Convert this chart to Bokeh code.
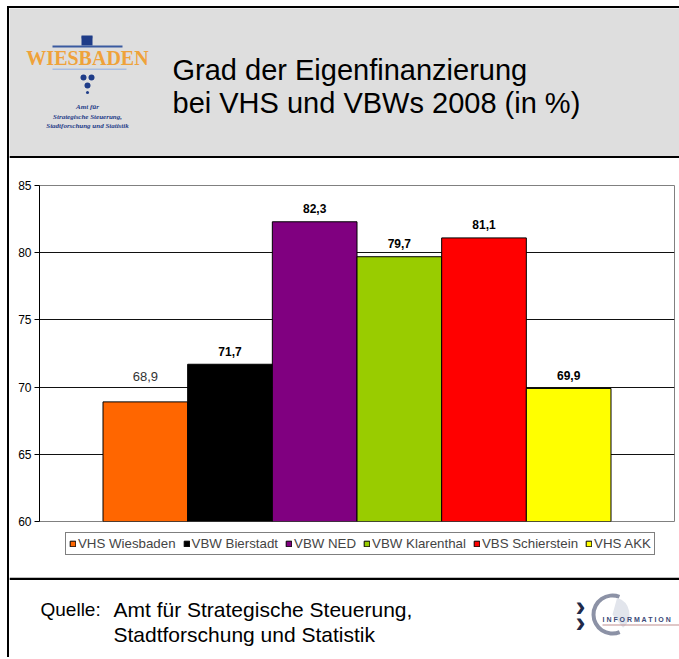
from bokeh.plotting import figure
from bokeh.models import Range1d, FactorRange, ColumnDataSource, Legend, LegendItem, FixedTicker
from bokeh.layouts import column
from bokeh.embed import file_html
from bokeh.resources import INLINE
from bokeh.core.properties import value

# ---- data ----
categories = ["VHS Wiesbaden", "VBW Bierstadt", "VBW NED", "VBW Klarenthal", "VBS Schierstein", "VHS AKK"]
values = [68.9, 71.7, 82.3, 79.7, 81.1, 69.9]
labels = ["68,9", "71,7", "82,3", "79,7", "81,1", "69,9"]
colors = ["#FF6600", "#000000", "#800080", "#99CC00", "#FF0000", "#FFFF00"]
y_ticks = [60, 65, 70, 75, 80, 85]
title_lines = ["Grad der Eigenfinanzierung", "bei VHS und VBWs 2008 (in %)"]
source_label = "Quelle:"
source_lines = ["Amt für Strategische Steuerung,", "Stadtforschung und Statistik"]
logo_word = "WIESBADEN"
logo_lines = ["Amt für", "Strategische Steuerung,", "Stadtforschung und Statistik"]

FONT = value("Liberation Sans")
W = 670
COMMON = dict(output_backend="svg", toolbar_location=None, frame_align=False)

# ---- header ----
HH = 150
h = figure(width=W, height=HH, x_range=Range1d(0, W), y_range=Range1d(HH, 0),
           x_axis_type=None, y_axis_type=None, min_border=0,
           background_fill_color="#dedede", border_fill_color="#dedede",
           outline_line_color=None, **COMMON)
h.grid.visible = False
h.quad(left=[0], right=[W], top=[147.5], bottom=[150], fill_color="black", line_color=None)
h.text(x=[163, 163], y=[61, 94], text=title_lines, text_font=FONT,
       text_font_size="29px", text_baseline="middle", text_color="black")
# Wiesbaden logo
h.quad(left=[72], right=[83], top=[27], bottom=[37], fill_color="#1f3c88", line_color=None)
h.wedge(x=[77.5], y=[28], radius=5.5, start_angle=0, end_angle=3.1416,
        direction="clock", fill_color="#1f3c88", line_color=None)
h.quad(left=[43], right=[113], top=[37], bottom=[39], fill_color="#3a5aa0", line_color=None)
h.text(x=[78], y=[49], text=[logo_word], text_font=value("Liberation Serif"),
       text_font_style="bold", text_font_size="20px", text_align="center",
       text_baseline="middle", text_color="#efa23a")
h.quad(left=[43], right=[117], top=[60], bottom=[61.5], fill_color="#a9bde0", line_color=None)
h.scatter(x=[74, 82, 78, 78], y=[69, 69, 77, 84], size=[6, 6, 6, 3],
          marker="circle", fill_color="#1f3c88", line_color=None)
h.text(x=[78, 78, 78], y=[98, 108, 117], text=logo_lines,
       text_font=value("Liberation Serif"), text_font_style="bold italic",
       text_font_size="7px", text_align="center", text_baseline="middle",
       text_color="#1f3c88")

# ---- chart ----
src = ColumnDataSource(dict(cat=categories, val=values, lab=labels, col=colors))
src_first = ColumnDataSource(dict(cat=categories[:1], val=values[:1], lab=labels[:1]))
src_rest = ColumnDataSource(dict(cat=categories[1:], val=values[1:], lab=labels[1:]))

p = figure(width=W, height=371,
           x_range=FactorRange(*categories, range_padding=0.25, range_padding_units="percent"),
           y_range=Range1d(60, 85), x_axis_type=None,
           min_border_left=30, min_border_right=5, min_border_top=27, min_border_bottom=8,
           background_fill_color="white", border_fill_color="white",
           outline_line_color="#808080", **COMMON)
p.xgrid.visible = False
p.ygrid.ticker = FixedTicker(ticks=y_ticks[1:-1])
p.ygrid.grid_line_color = "#111111"
p.yaxis.ticker = FixedTicker(ticks=y_ticks)
p.yaxis.minor_tick_line_color = None
p.yaxis.major_tick_in = 0
p.yaxis.major_tick_out = 5
p.yaxis.axis_line_color = "black"
p.yaxis.major_tick_line_color = "black"
p.yaxis.major_label_text_font = "Liberation Sans"
p.yaxis.major_label_text_font_size = "12px"
p.yaxis.major_label_text_color = "black"
p.yaxis.major_label_standoff = 3

p.vbar(x="cat", top="val", bottom=60, width=1.0, fill_color="col",
       line_color="black", line_width=1, source=src)
p.text(x="cat", y="val", text="lab", source=src_rest, text_font=FONT,
       text_font_style="bold", text_font_size="12px", text_align="center",
       text_baseline="middle", y_offset=-13, text_color="black")
p.text(x="cat", y="val", text="lab", source=src_first, text_font=FONT,
       text_font_size="13px", text_align="center",
       text_baseline="middle", y_offset=-25, text_color="#333333")

# ---- legend strip ----
lg = figure(width=W, height=48, x_range=FactorRange(*categories), y_range=Range1d(60, 85),
            x_axis_type=None, y_axis_type=None,
            min_border_left=30, min_border_right=5, min_border_top=0, min_border_bottom=0,
            background_fill_color="white", border_fill_color="white",
            outline_line_color=None, **COMMON)
lg.grid.visible = False
lbars = lg.vbar(x="cat", top="val", bottom=60, width=0.8, fill_color="col",
                line_color="black", line_width=1, source=src)
lbars.visible = False
items = [LegendItem(label=c, renderers=[lbars], index=i) for i, c in enumerate(categories)]
legend = Legend(items=items, orientation="horizontal", location=(26, 22),
                label_text_font="Liberation Sans", label_text_font_size="13.3px",
                glyph_width=7, glyph_height=7, label_standoff=2, spacing=7,
                padding=3, margin=0, label_height=13,
                border_line_color="black", border_line_width=1,
                background_fill_color="white", background_fill_alpha=1,
                inactive_fill_alpha=0)
lg.add_layout(legend, "center")

# ---- footer ----
FH = 80
f = figure(width=W, height=FH, x_range=Range1d(0, W), y_range=Range1d(FH, 0),
           x_axis_type=None, y_axis_type=None, min_border=0,
           background_fill_color="white", border_fill_color="white",
           outline_line_color=None, **COMMON)
f.grid.visible = False
f.quad(left=[0], right=[W], top=[0], bottom=[2.5], fill_color="black", line_color=None)
f.text(x=[31], y=[32], text=[source_label], text_font=FONT, text_font_size="19px",
       text_baseline="middle", text_color="black")
f.text(x=[104, 104], y=[32, 57], text=source_lines, text_font=FONT, text_font_size="21px",
       text_baseline="middle", text_color="black")
# information logo
f.annular_wedge(x=[603], y=[37], inner_radius=17, outer_radius=21,
                start_angle=1.2, end_angle=5.1, fill_color="#8c92a6", line_color=None)
f.wedge(x=[603], y=[37], radius=17, start_angle=-0.9, end_angle=1.3,
        fill_color="#e2e5ec", line_color=None)
f.text(x=[566, 566], y=[28, 44], text=["›", "›"], text_font=FONT, text_font_style="bold",
       text_font_size="30px", text_baseline="middle", text_color="#1f2a4a")
f.text(x=[593], y=[42], text=["I N F O R M A T I O N"], text_font=FONT,
       text_font_style="bold", text_font_size="7px", text_baseline="middle",
       text_color="#3c4a78")
f.quad(left=[593], right=[W], top=[47], bottom=[48], fill_color="#c09090", line_color=None)

layout = column(h, p, lg, f, styles={"margin-left": "7px", "margin-top": "6px",
                                      "border-left": "2px solid black",
                                      "border-top": "2px solid black"})

open("out.html", "w").write(file_html(layout, INLINE))
